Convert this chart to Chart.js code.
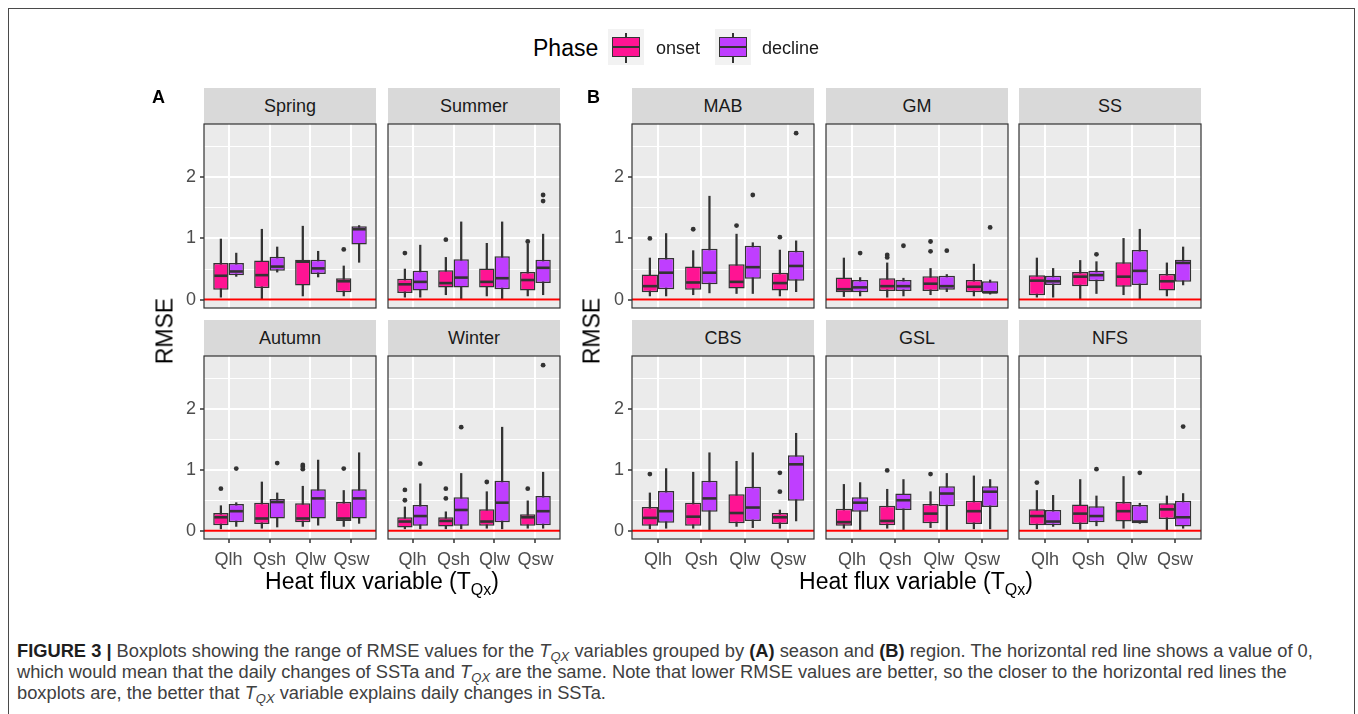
<!DOCTYPE html>
<html>
<head>
<meta charset="utf-8">
<script src="https://cdn.jsdelivr.net/npm/chart.js@4.4.1/dist/chart.umd.min.js"></script>
<style>
  body { margin: 0; width: 1358px; height: 714px; overflow: hidden; background: #fff;
         font-family: "Liberation Sans", Arial, sans-serif; position: relative; }
  .abs { position: absolute; white-space: nowrap; }
  .strip { position: absolute; background: #D9D9D9; color: #1A1A1A; font-size: 18px;
           display: flex; align-items: center; justify-content: center; }
  #frame { position: absolute; left: 8px; top: 8px; width: 1345px; height: 720px;
           border: 1.5px solid #4a4a4a; }
  #caption { position: absolute; left: 17px; top: 640px; font-size: 18.3px; line-height: 21px;
             color: #404040; white-space: nowrap; }
  #caption b { color: #1e1e1e; }
  #caption sub { font-size: 13px; line-height: 0; vertical-align: -4px; }
</style>
</head>
<body>
<div id="frame"></div>
<div id="caption">
<b>FIGURE 3 |</b> Boxplots showing the range of RMSE values for the <i>T<sub>QX</sub></i> variables grouped by <b>(A)</b> season and <b>(B)</b> region. The horizontal red line shows a value of 0,<br>
which would mean that the daily changes of SSTa and <i>T<sub>QX</sub></i> are the same. Note that lower RMSE values are better, so the closer to the horizontal red lines the<br>
boxplots are, the better that <i>T<sub>QX</sub></i> variable explains daily changes in SSTa.
</div>
<script>
/* ---- Data ---- */
const variables = ["Qlh", "Qsh", "Qlw", "Qsw"];
const phases = ["onset", "decline"];
const phaseColors = ["#FF1493", "#BF3EFF"];
const yTicks = [0, 0.5, 1, 1.5, 2, 2.5];

// each box: [lower whisker, Q1, median, Q3, upper whisker], in variable order
const spring = {
  onset:      [[0.04, 0.16, 0.39, 0.60, 0.99], [0.01, 0.19, 0.40, 0.64, 1.15], [0.06, 0.23, 0.62, 0.65, 1.20], [0.06, 0.12, 0.30, 0.35, 0.55]],
  decline:    [[0.38, 0.40, 0.46, 0.60, 0.76], [0.45, 0.47, 0.54, 0.70, 0.86], [0.37, 0.42, 0.51, 0.65, 0.79], [0.61, 0.90, 1.15, 1.20, 1.21]],
  onsetOut:   [[], [], [], [0.82]],
  declineOut: [[], [], [], []]
};
const summer = {
  onset:      [[0.04, 0.11, 0.25, 0.34, 0.50], [0.08, 0.20, 0.27, 0.48, 0.69], [0.06, 0.20, 0.29, 0.51, 0.92], [0.06, 0.15, 0.32, 0.45, 0.91]],
  decline:    [[0.04, 0.15, 0.29, 0.47, 0.89], [0.01, 0.20, 0.36, 0.66, 1.27], [0.01, 0.17, 0.35, 0.71, 1.27], [0.08, 0.27, 0.52, 0.65, 1.07]],
  onsetOut:   [[0.76], [0.98], [], [0.95]],
  declineOut: [[], [], [], [1.61, 1.71]]
};
const autumn = {
  onset:      [[0.03, 0.09, 0.22, 0.29, 0.41], [0.04, 0.11, 0.20, 0.46, 0.80], [0.07, 0.14, 0.20, 0.45, 0.73], [0.07, 0.16, 0.20, 0.47, 0.66]],
  decline:    [[0.07, 0.14, 0.32, 0.44, 0.46], [0.06, 0.20, 0.47, 0.52, 0.62], [0.09, 0.20, 0.53, 0.68, 1.16], [0.12, 0.20, 0.53, 0.68, 1.28]],
  onsetOut:   [[0.69], [], [1.01, 1.05, 1.08], [1.02]],
  declineOut: [[1.02], [1.11], [], []]
};
const winter = {
  onset:      [[0.03, 0.05, 0.15, 0.22, 0.39], [0.03, 0.07, 0.16, 0.22, 0.31], [0.04, 0.08, 0.15, 0.35, 0.64], [0.04, 0.08, 0.22, 0.27, 0.49]],
  decline:    [[0.03, 0.08, 0.24, 0.42, 0.77], [0.03, 0.08, 0.34, 0.55, 0.94], [0.03, 0.14, 0.46, 0.82, 1.70], [0.04, 0.09, 0.32, 0.57, 0.96]],
  onsetOut:   [[0.50, 0.67], [0.53, 0.69], [0.80], [0.69]],
  declineOut: [[1.10], [1.70], [], [2.72]]
};
const mab = {
  onset:      [[0.06, 0.12, 0.22, 0.41, 0.68], [0.08, 0.16, 0.28, 0.54, 0.80], [0.10, 0.18, 0.29, 0.58, 1.07], [0.06, 0.15, 0.27, 0.44, 0.81]],
  decline:    [[0.06, 0.17, 0.44, 0.68, 1.08], [0.11, 0.25, 0.44, 0.83, 1.69], [0.10, 0.34, 0.53, 0.88, 0.93], [0.13, 0.31, 0.55, 0.80, 0.96]],
  onsetOut:   [[1.00], [1.15], [1.21], [1.02]],
  declineOut: [[], [], [1.71], [2.72]]
};
const gm = {
  onset:      [[0.05, 0.12, 0.17, 0.36, 0.68], [0.04, 0.14, 0.22, 0.35, 0.60], [0.08, 0.14, 0.26, 0.38, 0.51], [0.06, 0.12, 0.21, 0.32, 0.58]],
  decline:    [[0.06, 0.12, 0.20, 0.32, 0.36], [0.06, 0.14, 0.22, 0.32, 0.35], [0.13, 0.16, 0.22, 0.39, 0.41], [0.09, 0.10, 0.12, 0.30, 0.32]],
  onsetOut:   [[], [0.69, 0.73], [0.79, 0.95], []],
  declineOut: [[0.76], [0.88], [0.80], [1.18]]
};
const ss = {
  onset:      [[0.04, 0.07, 0.31, 0.40, 0.68], [0.01, 0.22, 0.375, 0.45, 0.64], [0.08, 0.21, 0.375, 0.61, 1.00], [0.06, 0.15, 0.30, 0.42, 0.60]],
  decline:    [[0.04, 0.24, 0.30, 0.39, 0.51], [0.10, 0.30, 0.40, 0.47, 0.62], [0.01, 0.24, 0.47, 0.81, 1.15], [0.24, 0.29, 0.60, 0.65, 0.86]],
  onsetOut:   [[], [], [], []],
  declineOut: [[], [0.74], [], []]
};
const cbs = {
  onset:      [[0.03, 0.08, 0.21, 0.39, 0.62], [0.04, 0.08, 0.23, 0.46, 0.96], [0.07, 0.12, 0.29, 0.60, 1.14], [0.04, 0.11, 0.22, 0.29, 0.34]],
  decline:    [[0.04, 0.13, 0.32, 0.65, 1.02], [0.01, 0.31, 0.53, 0.82, 1.28], [0.05, 0.16, 0.38, 0.72, 1.28], [0.16, 0.49, 1.09, 1.24, 1.60]],
  onsetOut:   [[0.93], [], [], [0.64, 0.95]],
  declineOut: [[], [], [], []]
};
const gsl = {
  onset:      [[0.04, 0.08, 0.14, 0.36, 0.76], [0.04, 0.09, 0.16, 0.41, 0.68], [0.05, 0.12, 0.28, 0.44, 0.64], [0.03, 0.11, 0.32, 0.49, 0.90]],
  decline:    [[0.01, 0.31, 0.46, 0.55, 0.79], [0.01, 0.34, 0.50, 0.61, 0.84], [0.01, 0.40, 0.61, 0.73, 0.94], [0.03, 0.39, 0.64, 0.73, 0.84]],
  onsetOut:   [[], [0.99], [0.93], []],
  declineOut: [[], [], [], []]
};
const nfs = {
  onset:      [[0.03, 0.09, 0.24, 0.35, 0.66], [0.02, 0.11, 0.28, 0.43, 0.84], [0.04, 0.15, 0.32, 0.47, 0.89], [0.01, 0.19, 0.35, 0.45, 0.57]],
  decline:    [[0.07, 0.09, 0.15, 0.34, 0.58], [0.08, 0.14, 0.24, 0.40, 0.57], [0.12, 0.12, 0.15, 0.42, 0.45], [0.04, 0.07, 0.22, 0.49, 0.61]],
  onsetOut:   [[0.79], [], [], []],
  declineOut: [[], [1.01], [0.95], [1.71]]
};

Chart.defaults.font.family = "'Liberation Sans', Arial, sans-serif";

/* ---- Helpers ---- */
function addText(html, x, baseline, size, style) {
  const d = document.createElement("div");
  d.className = "abs";
  d.style.left = x + "px";
  d.style.top = (baseline - 0.847 * size) + "px";
  d.style.fontSize = size + "px";
  d.style.lineHeight = size + "px";
  d.innerHTML = html;
  Object.assign(d.style, style || {});
  document.body.appendChild(d);
  return d;
}

function addBox(left, top, w, h, style) {
  const d = document.createElement("div");
  d.style.position = "absolute";
  d.style.left = left + "px";
  d.style.top = top + "px";
  d.style.width = w + "px";
  d.style.height = h + "px";
  d.style.boxSizing = "border-box";
  Object.assign(d.style, style || {});
  document.body.appendChild(d);
  return d;
}

const boxplotDecor = {
  id: "boxplotDecor",
  beforeDraw(chart) {
    const { ctx, chartArea: a } = chart;
    ctx.save();
    ctx.fillStyle = "#EBEBEB";
    ctx.fillRect(a.left, a.top, a.width, a.height);
    ctx.restore();
  },
  afterDatasetDraw(chart, args) {
    const ds = chart.data.datasets[args.index];
    if (!ds.medians) return;
    const { ctx } = chart;
    const y = chart.scales.y;
    ctx.save();
    ctx.strokeStyle = "#333333";
    ctx.lineWidth = 2.6;
    args.meta.data.forEach((bar, i) => {
      const py = y.getPixelForValue(ds.medians[i]);
      ctx.beginPath();
      ctx.moveTo(bar.x - bar.width / 2 + 1, py);
      ctx.lineTo(bar.x + bar.width / 2 - 1, py);
      ctx.stroke();
    });
    ctx.restore();
  },
  afterDraw(chart) {
    const { ctx, chartArea: a } = chart;
    ctx.save();
    ctx.strokeStyle = "#333333";
    ctx.lineWidth = 1.2;
    ctx.strokeRect(a.left, a.top, a.width, a.height);
    ctx.restore();
  }
};

/* ---- One facet panel ---- */
const MARGIN = 40;
const DODGE = 0.1875;

function drawPanel(name, panel, left, top, w, h, showY, showX) {
  const strip = addBox(left, top - 36, w, 36, {});
  strip.className = "strip";
  strip.textContent = name;

  const yW = showY ? 30 : 0;
  const xH = showX ? 30 : 0;
  const canvas = document.createElement("canvas");
  canvas.width = w + 2 * MARGIN;
  canvas.height = h + 2 * MARGIN;
  canvas.style.position = "absolute";
  canvas.style.left = (left - MARGIN) + "px";
  canvas.style.top = (top - MARGIN) + "px";
  document.body.appendChild(canvas);

  const datasets = [];
  phases.forEach((ph, k) => {
    const off = k === 0 ? -DODGE : DODGE;
    const boxes = panel[ph];
    datasets.push({
      type: "bar",
      label: ph + " whisker",
      data: boxes.map((b, i) => ({ x: i + 1 + off, y: [b[0], b[4]] })),
      backgroundColor: "#333333",
      borderWidth: 0,
      barThickness: 1.6,
      grouped: false,
      order: 3
    });
    datasets.push({
      type: "bar",
      label: ph,
      data: boxes.map((b, i) => ({ x: i + 1 + off, y: [b[1], b[3]] })),
      medians: boxes.map(b => b[2]),
      backgroundColor: phaseColors[k],
      borderColor: "#333333",
      borderWidth: 1.5,
      borderSkipped: false,
      inflateAmount: 0,
      grouped: false,
      barPercentage: 1,
      categoryPercentage: 1,
      order: 2
    });
    datasets.push({
      type: "scatter",
      label: ph + " outliers",
      data: panel[ph + "Out"].flatMap((vals, i) => vals.map(v => ({ x: i + 1 + off, y: v }))),
      pointRadius: 2.4,
      pointBackgroundColor: "#333333",
      pointBorderWidth: 0,
      order: 1
    });
  });
  datasets.push({
    type: "line",
    label: "zero",
    data: [{ x: 0.4, y: 0 }, { x: 4.6, y: 0 }],
    borderColor: "#FF0000",
    borderWidth: 2,
    pointRadius: 0,
    order: 0
  });

  new Chart(canvas, {
    type: "bar",
    data: { datasets },
    options: {
      responsive: false,
      animation: false,
      events: [],
      devicePixelRatio: 1,
      layout: { padding: { left: MARGIN - yW, right: MARGIN, top: MARGIN, bottom: MARGIN - xH } },
      plugins: { legend: { display: false }, tooltip: { enabled: false } },
      scales: {
        x: {
          type: "linear",
          min: 0.4,
          max: 4.6,
          bounds: "data",
          offset: false,
          afterBuildTicks: s => { s.ticks = variables.map((v, i) => ({ value: i + 1 })); },
          afterFit: s => { s.height = xH; },
          border: { display: false },
          grid: { offset: false, color: "#FFFFFF", lineWidth: 2, drawTicks: showX, tickLength: 4,
                  tickColor: "#333333", tickWidth: 1.5 },
          ticks: { display: showX, autoSkip: false, maxRotation: 0, padding: 6, color: "#4D4D4D",
                   font: { size: 18 }, callback: v => variables[Math.round(v) - 1] || "" }
        },
        y: {
          min: -0.137,
          max: 2.87,
          bounds: "data",
          afterBuildTicks: s => { s.ticks = yTicks.map(v => ({ value: v })); },
          afterFit: s => { s.width = yW; },
          border: { display: false },
          grid: {
            color: "#FFFFFF",
            lineWidth: c => (c.tick && c.tick.value % 1 === 0 ? 2 : 1),
            drawTicks: showY,
            tickLength: 4,
            tickWidth: 1.5,
            tickColor: c => (c.tick && c.tick.value % 1 === 0 ? "#333333" : "rgba(0,0,0,0)")
          },
          ticks: { display: showY, padding: 4, color: "#4D4D4D", font: { size: 18 },
                   callback: v => (v % 1 === 0 ? String(v) : "") }
        }
      }
    },
    plugins: [boxplotDecor]
  });
}

/* ---- Panels A (season) ---- */
drawPanel("Spring", spring, 204, 124, 172, 184, true, false);
drawPanel("Summer", summer, 388, 124, 172, 184, false, false);
drawPanel("Autumn", autumn, 204, 356, 172, 183, true, true);
drawPanel("Winter", winter, 388, 356, 172, 183, false, true);

/* ---- Panels B (region) ---- */
drawPanel("MAB", mab, 632, 124, 182, 184, true, false);
drawPanel("GM", gm, 826, 124, 182, 184, false, false);
drawPanel("SS", ss, 1019, 124, 182, 184, false, false);
drawPanel("CBS", cbs, 632, 356, 182, 183, true, true);
drawPanel("GSL", gsl, 826, 356, 182, 183, false, true);
drawPanel("NFS", nfs, 1019, 356, 182, 183, false, true);

/* ---- Titles, labels ---- */
addText("A", 152, 103, 18, { fontWeight: "bold", color: "#000" });
addText("B", 587, 103, 18, { fontWeight: "bold", color: "#000" });

[165, 592].forEach(cx => {
  const t = addText("RMSE", cx, 331, 23, { color: "#000" });
  t.style.top = "331px";
  t.style.transform = "translate(-50%, -50%) rotate(-90deg)";
});

const xTitle = 'Heat flux variable (T<span style="font-size:16px;position:relative;top:6px">Qx</span>)';
addText(xTitle, 382, 589, 23, { color: "#000", transform: "translateX(-50%)" });
addText(xTitle, 916, 589, 23, { color: "#000", transform: "translateX(-50%)" });

/* ---- Legend ---- */
addText("Phase", 533, 56, 23, { color: "#000" });
function legendKey(left, color) {
  addBox(left, 29, 36, 36, { background: "#F2F2F2" });
  addBox(left + 17, 33, 2, 30, { background: "#333333" });
  addBox(left + 4, 37, 28, 20, { background: color, border: "1.5px solid #333333" });
  addBox(left + 4, 45.5, 28, 2.6, { background: "#333333" });
}
legendKey(608, phaseColors[0]);
addText("onset", 656, 54.5, 18, { color: "#1A1A1A" });
legendKey(715, phaseColors[1]);
addText("decline", 762, 54.5, 18, { color: "#1A1A1A" });
</script>
</body>
</html>
